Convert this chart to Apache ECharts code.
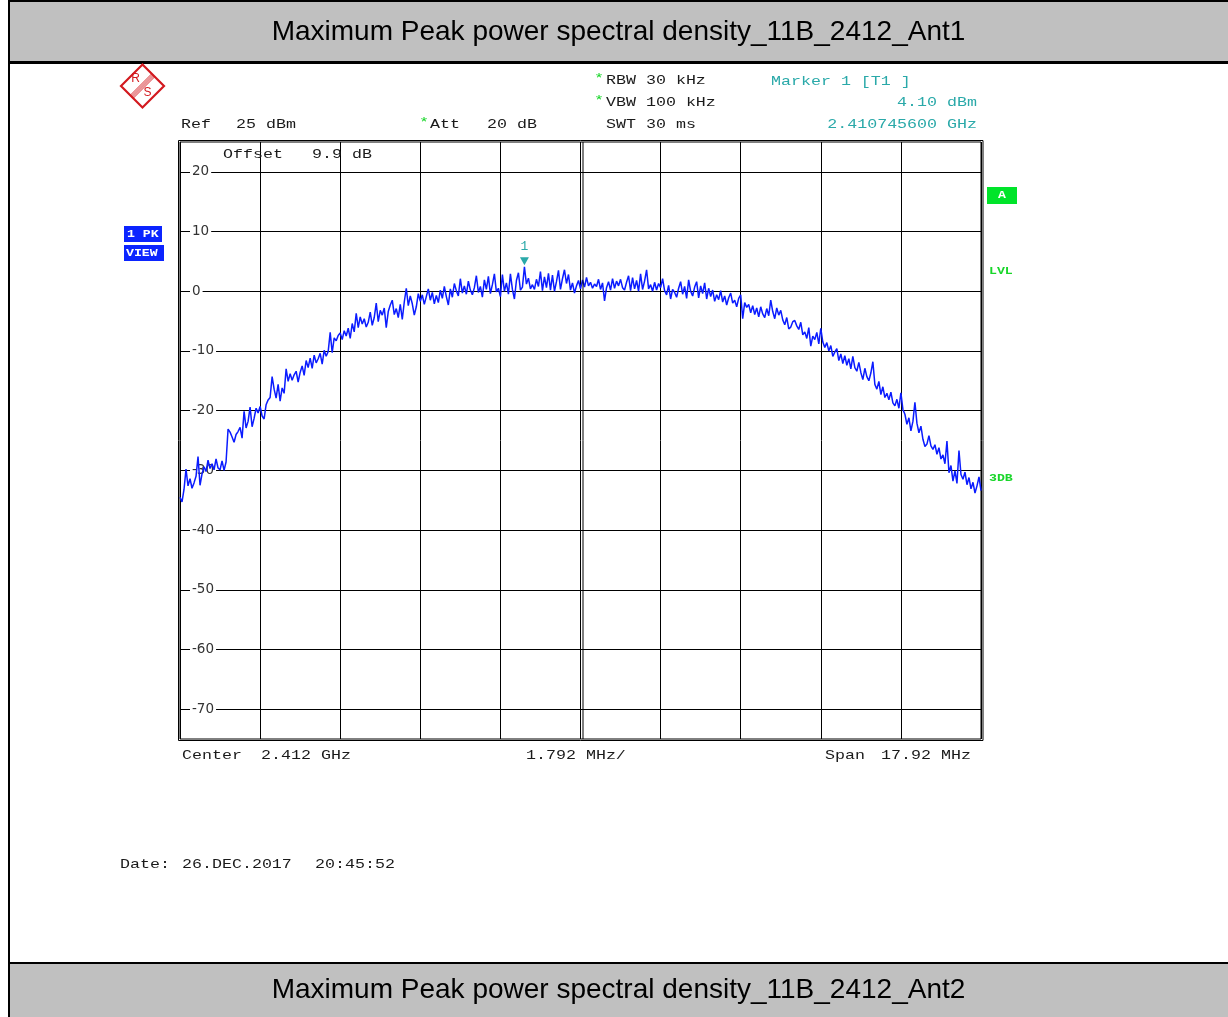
<!DOCTYPE html>
<html>
<head>
<meta charset="utf-8">
<script src="https://cdn.jsdelivr.net/npm/echarts@6/dist/echarts.min.js"></script>
<style>
  html, body { margin: 0; padding: 0; background: #fff; }
  #chart { width: 1228px; height: 1017px; }
</style>
</head>
<body>
<div id="chart"></div>
<script>
// Analyzer settings
const centerGHz = 2.412;
const spanMHz = 17.92;
const divMHz = 1.792;
const refLevel = 25;          // dBm at top of screen
const bottomLevel = -75;      // dBm at bottom of screen
const levelTicks = [20, 10, 0, -10, -20, -30, -40, -50, -60, -70];

// Marker 1 readout
const markerFreqGHz = 2.4107456;
const markerLevel = 4.10;

// Trace 1 (max peak), dBm per sweep point, left to right
const trace = [
  -34.5, -35.3, -33.2, -29.8, -32.6, -31.4, -33.0, -32.1, -31.0, -27.7, -32.5, -30.6, -29.4, -30.2, -28.3, -29.7, -28.9, -29.9, -28.1, -29.6,
  -29.9, -28.4, -30.0, -28.6, -23.1, -23.6, -24.4, -25.3, -24.0, -23.5, -22.8, -24.6, -20.1, -22.9, -21.8, -19.4, -22.7, -21.3, -19.6, -20.4,
  -19.3, -20.9, -21.4, -19.0, -18.2, -17.8, -14.3, -16.4, -17.9, -15.6, -18.4, -16.2, -17.1, -13.0, -15.1, -13.8, -14.9, -14.0, -13.4, -15.2,
  -13.6, -12.5, -14.1, -11.6, -12.8, -11.2, -12.9, -10.7, -12.0, -11.3, -10.4, -12.2, -9.9, -10.9, -10.1, -6.9, -10.3, -7.8, -8.3, -7.4,
  -7.0, -8.1, -6.6, -7.5, -6.2, -7.9, -5.4, -6.8, -3.7, -6.1, -4.3, -5.5, -4.6, -6.0, -5.2, -3.5, -5.7, -4.4, -2.0, -5.1,
  -3.2, -4.0, -2.8, -6.1, -3.4, -2.3, -1.5, -3.9, -2.9, -4.4, -2.2, -4.7, -1.8, 0.5, -2.4, -0.8, -2.1, -4.0, -2.6, -0.4,
  -1.7, -0.6, -2.2, -0.9, 0.4, -1.5, -0.2, -2.1, -0.7, -1.9, 0.2, -1.2, 0.8, -0.9, -2.3, 0.4, -1.0, 1.3, 0.1, -0.8,
  2.1, -0.3, 0.9, -0.5, 1.7, 0.2, -0.6, 0.6, 2.6, -0.2, 0.8, -1.0, 1.9, 0.3, 2.5, -0.4, 1.1, 2.9, -0.1, 0.5,
  -0.9, 2.8, 0.0, 1.4, -0.5, 2.9, 0.3, -1.3, 1.8, 3.1, 0.2, 0.7, 4.1, 1.2, 2.2, 0.4, 1.1, 0.3, 2.0, 0.8,
  3.3, 0.1, 2.4, 0.6, 3.0, 0.2, 2.7, 0.0, 1.6, 3.5, 0.3, 2.1, 3.6, 1.3, 2.8, 0.2, 1.4, -0.3, 0.9, 1.8,
  0.4, 1.9, 0.7, 2.3, 0.9, 1.5, 0.5, 1.2, 0.8, 2.0, 0.3, 1.4, -1.6, 0.6, 1.6, 0.2, 2.1, 0.5, 1.7, 0.9,
  2.0, 0.6, 0.2, 1.5, 2.6, 0.1, 2.3, 0.4, 1.8, 0.0, 2.9, 0.3, 1.7, 3.6, 0.4, 1.1, 0.0, 1.5, 0.2, 1.3,
  0.6, 2.1, 0.1, -0.6, 1.0, -1.3, 0.3, -0.2, -1.0, 0.5, 1.6, -0.5, 0.8, -1.2, 1.9, 0.0, -0.8, 0.7, 1.6, -1.1,
  0.9, -0.4, 1.4, -1.3, 0.5, -0.9, 0.2, -1.7, -0.6, -1.4, 0.1, -1.8, -0.8, -2.3, -1.1, -0.3, -2.0, -1.5, -2.6, -1.2,
  -0.6, -4.6, -1.9, -2.7, -2.2, -3.6, -2.4, -3.9, -2.8, -4.3, -2.6, -3.8, -4.4, -2.9, -4.1, -1.5, -3.4, -4.6, -2.8, -4.0,
  -3.2, -4.8, -5.6, -4.4, -6.3, -6.0, -5.1, -4.9, -5.8, -6.4, -5.2, -7.3, -6.8, -7.9, -6.1, -9.2, -7.5, -8.1, -6.9, -8.8,
  -6.2, -8.5, -9.4, -8.6, -10.0, -9.1, -10.9, -10.2, -9.6, -11.6, -10.5, -12.1, -10.8, -12.4, -11.3, -13.0, -10.9, -12.8, -13.4, -11.9,
  -13.6, -14.8, -12.9, -14.3, -15.0, -13.7, -11.8, -15.6, -16.4, -15.1, -17.3, -16.0, -17.8, -17.1, -18.2, -16.9, -18.7, -19.2, -18.1, -19.6,
  -17.0, -19.8, -20.6, -22.3, -21.2, -23.4, -21.8, -18.6, -22.1, -23.7, -22.6, -24.8, -26.0, -25.6, -24.2, -25.9, -26.5, -25.7, -27.3, -26.2,
  -28.1, -27.4, -28.9, -25.1, -30.4, -29.2, -31.8, -30.1, -32.2, -26.7, -30.7, -31.5, -30.3, -32.4, -31.2, -33.1, -32.0, -33.8, -32.6, -31.1, -33.4
];

// Screen layout (pixels)
const plot = { left: 180, top: 142, width: 801, height: 597 };

const halfSpan = spanMHz / 2;
const step = spanMHz / (trace.length - 1);
const traceData = trace.map((v, i) => [-halfSpan + i * step, v]);
const markerOffsetMHz = (markerFreqGHz - centerGHz) * 1000;

const INK = '#1a1a1a';
const TEAL = '#2aa9a9';
const GREEN = '#19d62a';
const BLUE = '#0b24ff';
const RS_RED = '#d3191f';

function mono(x, y, text, opt) {
  opt = opt || {};
  return {
    type: 'text', x: x, y: y, scaleX: opt.scaleX || 1.28, z: 20,
    style: {
      text: text,
      font: (opt.weight || 'normal') + ' ' + (opt.size || 13) + 'px "Liberation Mono", monospace',
      fill: opt.color || INK,
      textAlign: opt.align || 'left', align: opt.align || 'left',
      textVerticalAlign: 'middle', verticalAlign: 'middle'
    }
  };
}
function rect(x, y, w, h, fill, stroke, lw) {
  return {
    type: 'rect', z: 1,
    shape: { x: x, y: y, width: w, height: h },
    style: { fill: fill || 'none', stroke: stroke || null, lineWidth: lw || 0 }
  };
}
function seg(x1, y1, x2, y2, color, lw, z) {
  return {
    type: 'line', z: z || 5,
    shape: { x1: x1, y1: y1, x2: x2, y2: y2 },
    style: { stroke: color, lineWidth: lw || 1 }
  };
}

// R&S logo: diamond with stripe band between the letters
const logo = (function () {
  const cx = 142.5, cy = 86, r = 21.5;
  const els = [{
    type: 'polygon', z: 20,
    shape: { points: [[cx - r, cy], [cx, cy - r], [cx + r, cy], [cx, cy + r]] },
    style: { fill: '#fff', stroke: RS_RED, lineWidth: 2.2 }
  }];
  const a = [cx + r / 2, cy - r / 2], b = [cx - r / 2, cy + r / 2];
  [-2.1, -0.7, 0.7, 2.1].forEach(d => {
    const o = d * 0.7071;
    els.push(seg(a[0] + o, a[1] + o, b[0] + o, b[1] + o, RS_RED, 0.9, 21));
  });
  els.push({ type: 'text', x: cx - 7, y: cy - 7, z: 21,
    style: { text: 'R', font: '12px "Liberation Sans"', fill: RS_RED, textAlign: 'center', align: 'center', textVerticalAlign: 'middle', verticalAlign: 'middle' } });
  els.push({ type: 'text', x: cx + 5, y: cy + 7, z: 21,
    style: { text: 'S', font: '12px "Liberation Sans"', fill: RS_RED, textAlign: 'center', align: 'center', textVerticalAlign: 'middle', verticalAlign: 'middle' } });
  return els;
})();

const pb = plot.top + plot.height;
const graphics = [].concat(
  [
    // page frame and header bands
    rect(9, 0, 1219, 62, '#c0c0c0'),
    rect(9, 0, 1219, 2, '#000'),
    rect(9, 61, 1219, 3, '#000'),
    rect(9, 963, 1219, 54, '#c0c0c0'),
    rect(9, 962, 1219, 2, '#000'),
    rect(8, 0, 2, 1017, '#000'),
    {
      type: 'text', x: 618.5, y: 32.5, z: 20,
      style: { text: 'Maximum Peak power spectral density_11B_2412_Ant1', font: '28px "Liberation Sans", Arial, sans-serif',
        fill: '#000', textAlign: 'center', align: 'center', textVerticalAlign: 'middle', verticalAlign: 'middle' }
    },
    {
      type: 'text', x: 618.5, y: 990, z: 20,
      style: { text: 'Maximum Peak power spectral density_11B_2412_Ant2', font: '28px "Liberation Sans", Arial, sans-serif',
        fill: '#000', textAlign: 'center', align: 'center', textVerticalAlign: 'middle', verticalAlign: 'middle' }
    },
    // outer screen frame and doubled centre line
    rect(plot.left - 1.5, plot.top - 1.5, plot.width + 3.5, plot.height + 3, 'none', '#000', 1),
    seg(plot.left + plot.width / 2 + 2.5, plot.top, plot.left + plot.width / 2 + 2.5, pb, '#000', 1, 5),

    // settings readout
    mono(181, 125, 'Ref'),
    mono(236, 125, refLevel + ' dBm'),
    mono(419, 123, '*', { color: GREEN }),
    mono(430, 125, 'Att'),
    mono(487, 125, '20 dB'),
    mono(594, 79, '*', { color: GREEN }),
    mono(606, 81, 'RBW 30 kHz'),
    mono(594, 101, '*', { color: GREEN }),
    mono(606, 103, 'VBW 100 kHz'),
    mono(606, 125, 'SWT 30 ms'),
    mono(771, 82, 'Marker 1 [T1 ]', { color: TEAL }),
    mono(977, 103, markerLevel.toFixed(2) + ' dBm', { color: TEAL, align: 'right' }),
    mono(977, 125, markerFreqGHz.toFixed(9) + ' GHz', { color: TEAL, align: 'right' }),
    mono(223, 155, 'Offset'),
    mono(312, 155, '9.9 dB'),

    // frequency axis annotations
    mono(182, 756, 'Center'),
    mono(261, 756, centerGHz + ' GHz'),
    mono(526, 756, divMHz + ' MHz/'),
    mono(825, 756, 'Span'),
    mono(881, 756, spanMHz + ' MHz'),
    mono(120, 865, 'Date:'),
    mono(182, 865, '26.DEC.2017'),
    mono(315, 865, '20:45:52'),

    // trace / detector boxes
    rect(124, 226, 38, 16, BLUE),
    mono(127, 234, '1 PK', { color: '#fff', weight: 'bold', size: 11, scaleX: 1.2 }),
    rect(124, 245, 40, 16, BLUE),
    mono(126, 253, 'VIEW', { color: '#fff', weight: 'bold', size: 11, scaleX: 1.2 }),
    rect(987, 187, 30, 17, '#00e42a'),
    mono(1002, 195.5, 'A', { color: '#fff', weight: 'bold', size: 11, align: 'center', scaleX: 1.2 }),
    mono(989, 271, 'LVL', { color: GREEN, weight: 'bold', size: 11, scaleX: 1.2 }),
    mono(989, 478, '3DB', { color: GREEN, weight: 'bold', size: 11, scaleX: 1.2 })
  ],
  logo
);

const chart = echarts.init(document.getElementById('chart'), null, { renderer: 'canvas' });
chart.setOption({
  animation: false,
  backgroundColor: '#fff',
  grid: {
    left: plot.left, top: plot.top, width: plot.width, height: plot.height,
    show: true, borderColor: '#000', borderWidth: 1, backgroundColor: 'transparent'
  },
  xAxis: {
    type: 'value',
    min: -halfSpan, max: halfSpan, interval: divMHz,
    axisLine: { show: false }, axisTick: { show: false }, axisLabel: { show: false },
    splitLine: { show: true, lineStyle: { color: '#000', width: 1 } }
  },
  yAxis: {
    type: 'value',
    min: bottomLevel, max: refLevel,
    axisLine: { show: false },
    axisTick: { show: false, customValues: levelTicks },
    axisLabel: {
      customValues: levelTicks,
      inside: true, margin: 10,
      color: '#333', fontFamily: '"DejaVu Sans", sans-serif', fontSize: 13.5,
      backgroundColor: '#fff', padding: [1, 2]
    },
    splitLine: { show: true, lineStyle: { color: '#000', width: 1 } }
  },
  series: [{
    type: 'line',
    data: traceData,
    showSymbol: false,
    symbol: 'none',
    lineStyle: { color: '#0b1cff', width: 1.5 },
    z: 3,
    markPoint: {
      symbol: 'path://M0,0 L10,0 L5,8 Z',
      symbolSize: [9, 8],
      symbolOffset: [0, -5.5],
      itemStyle: { color: TEAL },
      label: {
        show: true, position: 'top', distance: 4, formatter: '1',
        color: TEAL, fontFamily: '"Liberation Mono", monospace', fontSize: 13
      },
      data: [{ coord: [markerOffsetMHz, markerLevel] }]
    }
  }],
  graphic: { elements: graphics }
});
</script>
</body>
</html>
